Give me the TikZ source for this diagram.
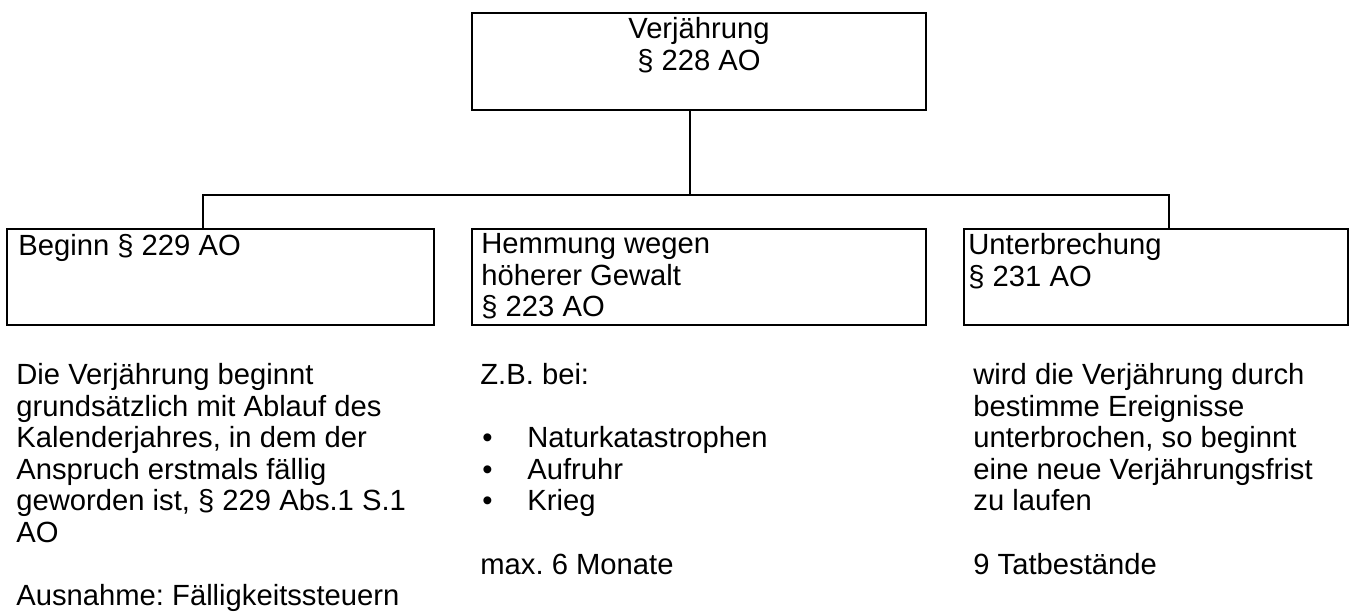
\documentclass[tikz,border=0pt]{standalone}
\usepackage{fontspec}
\setmainfont{Liberation Sans}
\usetikzlibrary{positioning}
\frenchspacing
\newcommand{\boxfont}{\fontsize{14.6pt}{15.8pt}\selectfont}
\newcommand{\bulletitem}[1]{\makebox[23.5pt][l]{\hspace{1pt}•}#1}
\tikzset{
  box/.style={draw,line width=1pt,inner sep=0pt,outer sep=0pt},
  txt/.style={inner sep=0pt,anchor=north west,align=left,font=\boxfont,
              execute at begin node=\strut},
}
\begin{document}
\begin{tikzpicture}[x=0.5pt,y=-0.5pt]
  \useasboundingbox (0,0) rectangle (1357,614);

  % boxes
  \node[box,minimum width=227pt,minimum height=48.5pt] (topbox) at (699,61.5) {};
  \node[box,minimum width=213.5pt,minimum height=48pt] (beginbox) at (220.5,277) {};
  \node[box,minimum width=227pt,minimum height=48pt] (hemmbox) at (699,277) {};
  \node[box,minimum width=192pt,minimum height=48pt] (unterbox) at (1156,277) {};

  % connectors
  \coordinate (hub) at (690,195);
  \coordinate (jl) at (203,195);
  \coordinate (jr) at (1169,195);
  \draw[line width=1pt] (topbox.south -| hub) -- (hub);
  \draw[line width=1pt] (jl |- beginbox.north) -- (jl) -- (jr) -- (jr |- unterbox.north);

  % box texts
  \node[txt,anchor=north,align=center] (toptxt) at (699,17) {Verjährung\\§ 228 AO};
  \node[txt] (begintxt) at (18,233) {Beginn § 229 AO};
  \node[txt] (hemmtxt) at (481,233) {Hemmung wegen\\höherer Gewalt\\§ 223 AO};
  \node[txt] (untertxt) at (968,233) {Unterbrechung\\§ 231 AO};

  % texts below
  \node[txt] (beginnote) at (16,363) {Die Verjährung beginnt\\grundsätzlich mit Ablauf des\\Kalenderjahres, in dem der\\Anspruch erstmals fällig\\geworden ist, § 229 Abs.1 S.1\\AO\\[15.8pt]Ausnahme: Fälligkeitssteuern};
  \node[txt] (hemmnote) at (480,363) {Z.B. bei:\\[15.8pt]\bulletitem{Naturkatastrophen}\\\bulletitem{Aufruhr}\\\bulletitem{Krieg}\\[15.8pt]max. 6 Monate};
  \node[txt] (unternote) at (973,363) {wird die Verjährung durch\\bestimme Ereignisse\\unterbrochen, so beginnt\\eine neue Verjährungsfrist\\zu laufen\\[15.8pt]9 Tatbestände};
\end{tikzpicture}
\end{document}
